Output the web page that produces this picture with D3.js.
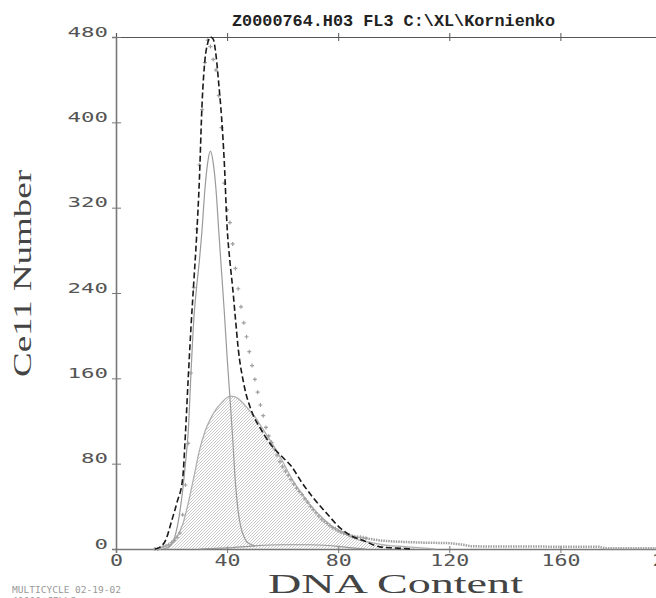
<!DOCTYPE html>
<html>
<head>
<meta charset="utf-8">
<script src="https://cdn.jsdelivr.net/npm/d3@7"></script>
<style>
  body { margin: 0; background: #fff; }
  svg { display: block; }
</style>
</head>
<body>
<div id="chart"></div>
<script>
// axis ticks
var xTicks = [0, 40, 80, 120, 160, 200];
var yTicks = [0, 80, 160, 240, 320, 400, 480];

// measured histogram counts, one per channel starting at channel 14
var dataStart = 14;
var dataCounts = [0, 0, 1, 2, 3, 4, 6, 8, 11, 15,
    32, 60, 99, 165, 245, 300, 360, 412, 456, 477,
    471, 459, 449, 425, 395, 343, 318, 306, 286, 263,
    244, 227, 212, 199, 185, 172, 159, 147, 135, 125,
    114, 106, 100, 94, 88, 82, 77, 73, 69, 65,
    61, 57, 54, 51, 47, 44, 40, 37, 34, 31,
    28, 26, 24, 22, 20, 19, 17, 16, 15, 14,
    13, 12, 11.5, 11, 11, 10.5, 10];

// tail of the histogram past channel 90
var tailX = [90, 95, 100, 110, 120, 125, 128, 140, 160, 174, 176, 200];
var tailY = [10, 8, 7, 6, 5.5, 4, 2.5, 2.3, 2.2, 2, 0.8, 0.8];

// model fit (dashed)
var fitX = [14, 16, 18, 20, 22, 24, 25, 26, 27, 28, 29, 30, 31, 32, 33, 34, 35, 36, 37, 38,
    39, 40, 41, 42, 43, 44, 46, 49, 52, 56, 60, 63, 67, 71, 76, 81, 85, 89, 95, 100, 107];
var fitY = [0, 2, 9, 26, 44, 66, 108, 160, 208, 250, 292, 345, 418, 458, 474, 480, 478, 463, 436, 405,
    362, 302, 270, 245, 216, 188, 155, 128, 113, 97, 86, 78, 62, 48, 33, 19, 12, 8, 2, 1, 0];

// G1 peak (thin grey line)
var g1X = [17, 19, 21, 22, 23, 24, 25, 26, 27, 28, 29, 30, 31, 32, 33, 34, 35, 36, 37, 38,
    39, 40, 41, 42, 43, 44, 45, 46, 47, 48, 50];
var g1Y = [0, 2, 10, 20, 35, 55, 80, 110, 165, 215, 245, 270, 300, 337, 362, 373, 362, 337, 298, 260,
    222, 180, 143, 104, 62, 35, 20, 12, 7, 5, 3];

// G2 component (low grey line)
var g2X = [30, 40, 50, 60, 70, 75, 80, 85, 90];
var g2Y = [0, 1, 3, 4, 4, 3.5, 2.5, 1, 0];

// S phase (hatched)
var sX = [18, 19, 20, 22, 24, 26, 28, 30, 32, 34, 36, 38, 40, 41, 42, 44, 46, 48, 50, 52,
    54, 56, 58, 60, 62, 64, 66, 68, 70, 72, 74, 76, 78, 80, 82, 84, 86, 88, 92, 96,
    100, 105, 110, 115];
var sY = [0, 2, 5, 12, 23, 43, 67, 92, 110, 122, 131, 137, 142, 143, 143, 141, 136, 130, 124, 116,
    108, 100, 91, 82, 72, 63, 55, 48, 41, 35, 30, 25, 21, 18, 15, 12, 10, 8, 6, 4,
    3, 2, 1, 0];

var width = 656, height = 598;

var svg = d3.select("#chart")
    .append("svg")
    .attr("width", width)
    .attr("height", height);

var x = d3.scaleLinear().domain([0, 200]).range([116, 671.5]);
var y = d3.scaleLinear().domain([0, 480]).range([549, 37]);

var defs = svg.append("defs");
defs.append("pattern")
    .attr("id", "hatch")
    .attr("patternUnits", "userSpaceOnUse")
    .attr("width", 3)
    .attr("height", 3)
    .append("path")
    .attr("d", "M-1,1 l2,-2 M0,3 l3,-3 M2,4 l2,-2")
    .attr("stroke", "#b4b4b4")
    .attr("stroke-width", 0.7);

var axisColor = "#787878";

// title
svg.append("text")
    .attr("x", 232)
    .attr("y", 26)
    .attr("textLength", 323)
    .attr("lengthAdjust", "spacingAndGlyphs")
    .style("font-family", "Liberation Mono, monospace")
    .style("font-weight", "bold")
    .style("font-size", "17px")
    .style("fill", "#222")
    .text("Z0000764.H03 FL3 C:\\XL\\Kornienko");

// top frame line
var topAxis = svg.append("g")
    .attr("transform", "translate(0," + y(480) + ")")
    .call(d3.axisTop(x).tickValues(xTicks).tickSize(4).tickFormat(""));
topAxis.select(".domain").attr("stroke", "#555").attr("stroke-width", 1.2);
topAxis.selectAll(".tick line").attr("y1", 4).attr("y2", -4).attr("stroke", "#555");

// bottom axis
var bottomAxis = svg.append("g")
    .attr("transform", "translate(0," + y(0) + ")")
    .call(d3.axisBottom(x).tickValues(xTicks).tickSize(4).tickFormat(d3.format("d")));
bottomAxis.select(".domain").attr("stroke", axisColor).attr("stroke-width", 1.6);
bottomAxis.selectAll(".tick line").attr("y1", -3).attr("y2", 4).attr("stroke", axisColor);
bottomAxis.selectAll(".tick text")
    .attr("y", 17)
    .attr("dy", 0)
    .attr("textLength", function (d) { return String(d).length * 13; })
    .attr("lengthAdjust", "spacingAndGlyphs")
    .style("font-family", "DejaVu Sans Mono, monospace")
    .style("font-size", "15px")
    .style("fill", "#555");

// left axis
var leftAxis = svg.append("g")
    .attr("transform", "translate(" + x(0) + ",0)")
    .call(d3.axisLeft(y).tickValues(yTicks).tickSize(4).tickFormat(d3.format("d")));
leftAxis.select(".domain").attr("stroke", axisColor).attr("stroke-width", 1.6);
leftAxis.selectAll(".tick line").attr("x1", 5).attr("x2", -4).attr("stroke", axisColor);
leftAxis.selectAll(".tick text")
    .attr("x", -8)
    .attr("y", 0)
    .attr("dy", -1)
    .attr("textLength", function (d) { return String(d).length * 13.5; })
    .attr("lengthAdjust", "spacingAndGlyphs")
    .style("font-family", "DejaVu Sans Mono, monospace")
    .style("font-size", "14px")
    .style("fill", "#555");

var line = d3.line()
    .x(function (d) { return x(d[0]); })
    .y(function (d) { return y(d[1]); })
    .curve(d3.curveMonotoneX);

// hatched S phase
var sData = sX.map(function (d, i) { return [d, sY[i]]; });
svg.append("path")
    .datum(sData)
    .attr("d", d3.area()
        .x(function (d) { return x(d[0]); })
        .y0(y(0))
        .y1(function (d) { return y(d[1]); })
        .curve(d3.curveMonotoneX))
    .attr("fill", "url(#hatch)");
svg.append("path")
    .datum(sData)
    .attr("d", line)
    .attr("fill", "none")
    .attr("stroke", "#b0b0b0")
    .attr("stroke-width", 1.3);

// G2
svg.append("path")
    .datum(g2X.map(function (d, i) { return [d, g2Y[i]]; }))
    .attr("d", line)
    .attr("fill", "none")
    .attr("stroke", "#999")
    .attr("stroke-width", 1.2);

// G1
svg.append("path")
    .datum(g1X.map(function (d, i) { return [d, g1Y[i]]; }))
    .attr("d", line)
    .attr("fill", "none")
    .attr("stroke", "#9a9a9a")
    .attr("stroke-width", 1.2);

// tail
svg.append("path")
    .datum(tailX.map(function (d, i) { return [d, tailY[i]]; }))
    .attr("d", d3.line()
        .x(function (d) { return x(d[0]); })
        .y(function (d) { return y(d[1]); }))
    .attr("fill", "none")
    .attr("stroke", "#a0a0a0")
    .attr("stroke-width", 2.5)
    .attr("stroke-dasharray", "1.5,1");

// data points
var pts = dataCounts.map(function (c, i) { return [dataStart + i, c]; });
svg.append("g")
    .selectAll("path")
    .data(pts)
    .enter()
    .append("path")
    .attr("transform", function (d) { return "translate(" + x(d[0]) + "," + y(d[1]) + ")"; })
    .attr("d", "M-2,0H2M0,-2V2")
    .attr("stroke", "#a0a0a0")
    .attr("stroke-width", 1.2);

// fit (dashed)
svg.append("path")
    .datum(fitX.map(function (d, i) { return [d, fitY[i]]; }))
    .attr("d", line)
    .attr("fill", "none")
    .attr("stroke", "#1a1a1a")
    .attr("stroke-width", 1.6)
    .attr("stroke-dasharray", "6,3");

// axis titles
svg.append("text")
    .attr("x", 268)
    .attr("y", 593)
    .attr("textLength", 255)
    .attr("lengthAdjust", "spacingAndGlyphs")
    .style("font-family", "Liberation Serif, serif")
    .style("font-size", "27px")
    .style("fill", "#444")
    .text("DNA Content");

svg.append("text")
    .attr("transform", "translate(31,377) rotate(-90)")
    .attr("textLength", 207)
    .attr("lengthAdjust", "spacingAndGlyphs")
    .style("font-family", "Liberation Serif, serif")
    .style("font-size", "26px")
    .style("fill", "#444")
    .text("Ce11 Number");

// footer
svg.append("text")
    .attr("x", 12)
    .attr("y", 593)
    .attr("textLength", 109)
    .attr("lengthAdjust", "spacingAndGlyphs")
    .style("font-family", "DejaVu Sans Mono, monospace")
    .style("font-size", "9px")
    .style("fill", "#999")
    .text("MULTICYCLE 02-19-02");
svg.append("text")
    .attr("x", 12)
    .attr("y", 604)
    .attr("textLength", 64)
    .attr("lengthAdjust", "spacingAndGlyphs")
    .style("font-family", "DejaVu Sans Mono, monospace")
    .style("font-size", "9px")
    .style("fill", "#999")
    .text("40000 CELLS");
</script>
</body>
</html>
